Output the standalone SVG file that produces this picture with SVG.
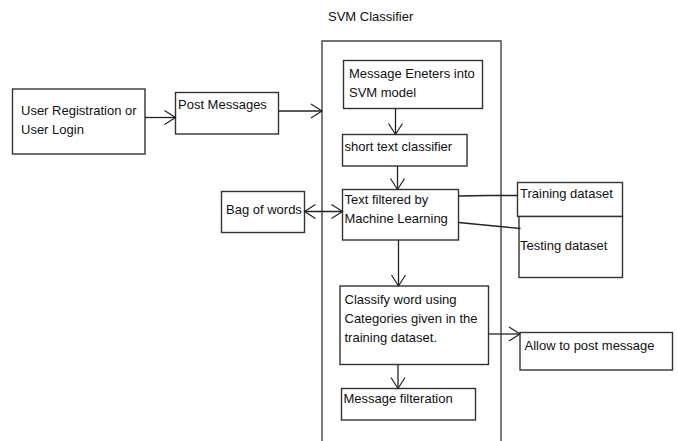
<svg xmlns="http://www.w3.org/2000/svg" width="678" height="441" viewBox="0 0 678 441">
<defs>
<style>
.box{fill:#fff;stroke:#333;stroke-width:1.4}
.frame{fill:none;stroke:#444;stroke-width:1.4}
.ln{fill:none;stroke:#222;stroke-width:1.3}
text{font-family:"Liberation Sans",Arial,sans-serif;font-size:13px;fill:#111}
</style>
<marker id="arr" viewBox="-12 -8 14 16" markerWidth="14" markerHeight="16" refX="0" refY="0" orient="auto-start-reverse" markerUnits="userSpaceOnUse">
<path d="M-11,-7 L0,0 L-11,7" fill="none" stroke="#222" stroke-width="1.2"/>
</marker>
</defs>
<rect width="678" height="441" fill="#fff"/>

<g id="svm-classifier">
<text x="328" y="21">SVM Classifier</text>
<path class="frame" d="M322,441 V41 H501 V441"/>
</g>

<g id="user-login">
<rect class="box" x="12.5" y="89" width="132.5" height="65"/>
<text x="21" y="115">User Registration or</text>
<text x="21" y="134">User Login</text>
</g>

<g id="post-messages">
<rect class="box" x="175.5" y="92.5" width="103" height="41.5"/>
<text x="178" y="109">Post Messages</text>
</g>

<g id="message-enters">
<rect class="box" x="343.5" y="60.5" width="139" height="48"/>
<text x="349" y="78">Message Eneters into</text>
<text x="349" y="97">SVM model</text>
</g>

<g id="short-text">
<rect class="box" x="342.5" y="134.5" width="124.5" height="31.5"/>
<text x="344.5" y="151">short text classifier</text>
</g>

<g id="text-filtered">
<rect class="box" x="342.5" y="189.5" width="116" height="50.5"/>
<text x="344.5" y="203.5">Text filtered by</text>
<text x="344.5" y="222.5">Machine Learning</text>
</g>

<g id="bag-of-words">
<rect class="box" x="221.5" y="191.5" width="83" height="41"/>
<text x="226" y="213.5">Bag of words</text>
</g>

<g id="training-dataset">
<rect class="box" x="517.5" y="182.5" width="105" height="34"/>
<text x="520" y="197.5">Training dataset</text>
</g>

<g id="testing-dataset">
<rect class="box" x="519" y="216.5" width="103.5" height="61"/>
<text x="520" y="250">Testing dataset</text>
</g>

<g id="classify-word">
<rect class="box" x="340" y="286" width="148.5" height="78.5"/>
<text x="344.5" y="304">Classify word using</text>
<text x="344.5" y="323">Categories given in the</text>
<text x="344.5" y="341.5">training dataset.</text>
</g>

<g id="allow-post">
<rect class="box" x="520" y="332.5" width="152.5" height="37.5"/>
<text x="524.5" y="349.5">Allow to post message</text>
</g>

<g id="message-filteration">
<rect class="box" x="341.5" y="388.5" width="134" height="31.5"/>
<text x="343.5" y="403">Message filteration</text>
</g>

<g id="connectors">
<path class="ln" d="M145,117.5 H175.5" marker-end="url(#arr)"/>
<path class="ln" d="M278.5,111 H322" marker-end="url(#arr)"/>
<path class="ln" d="M395.5,108.5 V134.5" marker-end="url(#arr)"/>
<path class="ln" d="M397.5,166 V189.5" marker-end="url(#arr)"/>
<path class="ln" d="M304.5,211.5 H342.5" marker-start="url(#arr)" marker-end="url(#arr)"/>
<path class="ln" d="M458.5,196 L488,195.5 H517.5"/>
<path class="ln" d="M458.5,222.5 L520.5,228.5"/>
<path class="ln" d="M398.5,240 V286" marker-end="url(#arr)"/>
<path class="ln" d="M488.5,334 H520" marker-end="url(#arr)"/>
<path class="ln" d="M398,364.5 V388.5" marker-end="url(#arr)"/>
</g>
</svg>
